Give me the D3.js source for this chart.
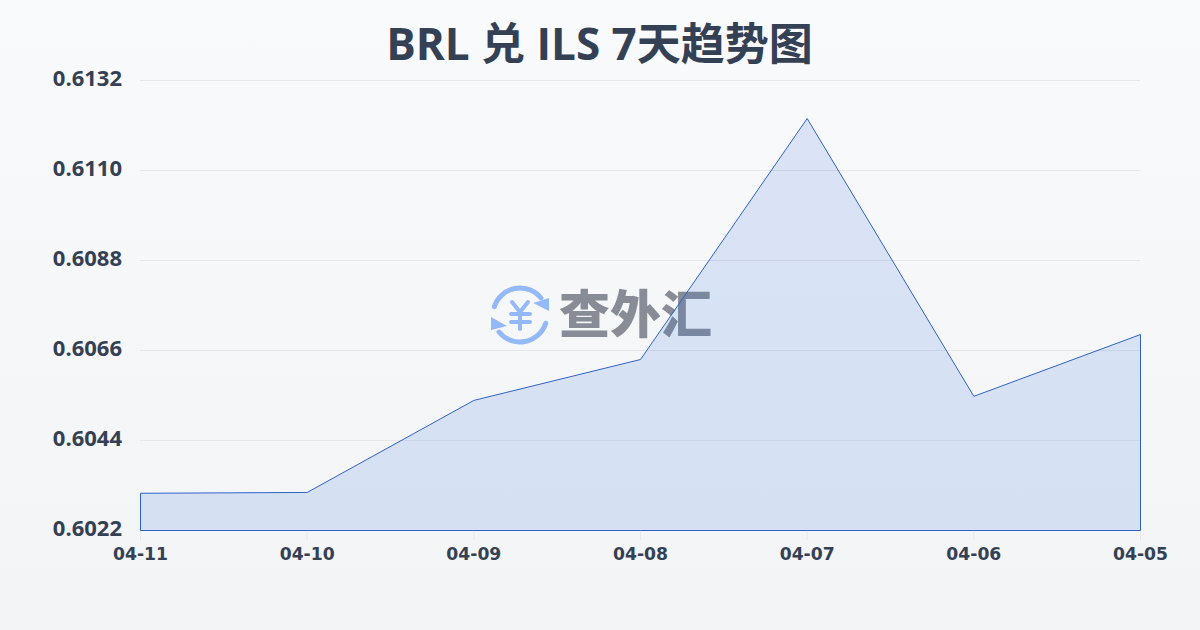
<!DOCTYPE html>
<html><head><meta charset="utf-8">
<script src="https://cdn.jsdelivr.net/npm/d3@7/dist/d3.min.js"></script>
<style>
html,body{margin:0;padding:0;width:1200px;height:630px;overflow:hidden;background:#f8fafc}
svg{display:block}
</style></head><body>
<svg id="c" width="1200" height="630"></svg>
<script>
const titleText = "BRL 兑 ILS 7天趋势图";
const dates = ["04-11","04-10","04-09","04-08","04-07","04-06","04-05"];
const rates = [0.60311,0.60313,0.60538,0.60638,0.61227,0.60548,0.60699];
const yTicks = [0.6022,0.6044,0.6066,0.6088,0.6110,0.6132];
const watermarkText = "查外汇";

const svg = d3.select("#c");
const defs = svg.append("defs");
const bg = defs.append("linearGradient").attr("id","bg").attr("x1",0).attr("y1",0).attr("x2",0).attr("y2",1);
bg.append("stop").attr("offset","0%").attr("stop-color","#f9fafc");
bg.append("stop").attr("offset","100%").attr("stop-color","#f3f4f6");
svg.append("rect").attr("width",1200).attr("height",630).attr("fill","url(#bg)");

const x = d3.scalePoint().domain(dates).range([140.5,1140.5]);
const y = d3.scaleLinear().domain([0.6022,0.6132]).range([530.5,80.5]);
const ff = "'Open Sans','Noto Sans CJK SC',sans-serif";
const ink = "#344054";

svg.append("g").selectAll("line").data(yTicks.slice(1)).join("line")
  .attr("x1",140).attr("x2",1140).attr("y1",d=>y(d)).attr("y2",d=>y(d))
  .attr("stroke","#e5e7eb").attr("stroke-width",1);

svg.append("g").selectAll("text").data(yTicks).join("text")
  .attr("x",122).attr("y",d=>y(d)+5).attr("text-anchor","end")
  .attr("font-family",ff).attr("font-weight",700).attr("font-size",22).attr("fill",ink)
  .text(d=>d.toFixed(4));

const gx = svg.append("g");
gx.selectAll("line").data(dates).join("line")
  .attr("x1",d=>x(d)).attr("x2",d=>x(d)).attr("y1",530).attr("y2",540)
  .attr("stroke","#e5e7eb");
gx.selectAll("text").data(dates).join("text")
  .attr("x",d=>x(d)).attr("y",560).attr("text-anchor","middle")
  .attr("font-family","'DejaVu Sans',sans-serif").attr("font-weight",700).attr("font-size",17.2).attr("fill",ink)
  .text(d=>d);

const wm = svg.append("g").attr("transform","translate(520,315)");
const arc = d3.arc().innerRadius(24.5).outerRadius(29.5).cornerRadius(2.4);
const blue = "#93b9f8";
wm.append("path").attr("d",arc({startAngle:-1.35,endAngle:0.98})).attr("fill",blue);
wm.append("path").attr("d",arc({startAngle:1.79,endAngle:4.12})).attr("fill",blue);
wm.append("path").attr("d","M29,-17 L29,-4 L13,-12 Z").attr("fill",blue);
wm.append("path").attr("d","M-29,2 L-29,15 L-13,11 Z").attr("fill",blue);
wm.append("path").attr("d","M-8,-13 L0,-3 L8,-13 M-9,-1 H10 M-9,7 H10 M0,-3 V14")
  .attr("fill","none").attr("stroke",blue).attr("stroke-width",4).attr("stroke-linecap","round").attr("stroke-linejoin","round");
svg.append("text").attr("x",635.5).attr("y",333).attr("text-anchor","middle")
  .attr("font-family","'Noto Sans CJK SC'").attr("font-weight",900).attr("font-size",51).attr("fill","#888c96")
  .text(watermarkText);

const area = d3.area().x((d,i)=>x(dates[i])).y0(y(0.6022)).y1(d=>y(d));
svg.append("path").datum(rates).attr("d",area)
  .attr("fill","#2f6be0").attr("fill-opacity",0.15)
  .attr("stroke","#2f62c9").attr("stroke-width",1);

svg.append("text").attr("x",599.5).attr("y",60).attr("text-anchor","middle")
  .attr("font-family",ff).attr("font-weight",700).attr("font-size",44).attr("fill",ink)
  .text(titleText);
</script>
</body></html>
